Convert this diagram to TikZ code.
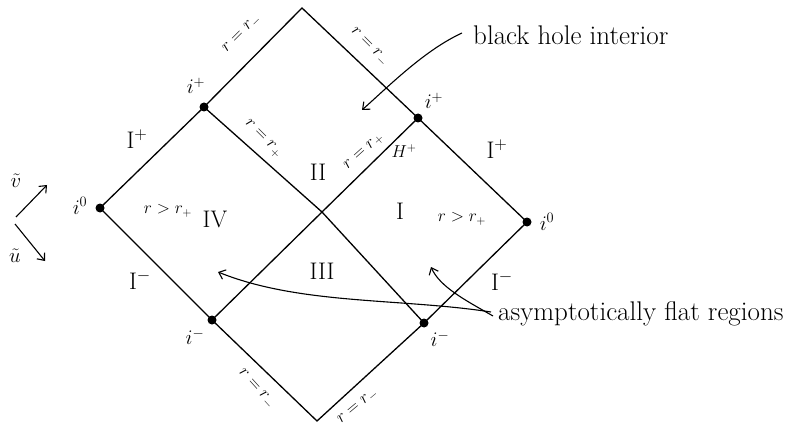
\documentclass[tikz,border=0pt]{standalone}
\usetikzlibrary{arrows.meta}
\begin{document}
\begin{tikzpicture}[x=1pt,y=-1pt,
  edge/.style={line width=1.3pt},
  dot/.style={circle,fill=black,inner sep=0pt,minimum size=9pt},
  lbl/.style={font=\fontsize{18}{21}\selectfont,inner sep=1pt},
  ptlbl/.style={font=\fontsize{21}{24}\selectfont,inner sep=1pt},
  scri/.style={font=\fontsize{24}{28}\selectfont,inner sep=1pt},
  region/.style={font=\fontsize{24}{28}\selectfont,inner sep=1pt},
  bigtext/.style={font=\fontsize{27}{31}\selectfont,inner sep=1pt},
  pointer/.style={line width=1.1pt,-{Straight Barb[length=6pt,width=10pt]}},
]
\useasboundingbox (0,0) rectangle (809,425);
% vertices
\coordinate (top) at (302,8);
\coordinate (bot) at (317,421);
\coordinate (c) at (322,212);
\node[dot] (ipL) at (204,107) {};
\node[dot] (ipR) at (418,118) {};
\node[dot] (ioL) at (100,208) {};
\node[dot] (ioR) at (527,222) {};
\node[dot] (imL) at (212,320) {};
\node[dot] (imR) at (424,323) {};
% boundary and horizons
\draw[edge] (ipL.center) -- (top) -- (ipR.center) -- (ioR.center) -- (imR.center) -- (bot) -- (imL.center) -- (ioL.center) -- cycle;
\draw[edge] (ipL.center) -- (c) -- (imR.center);
\draw[edge] (ipR.center) -- (c) -- (imL.center);
% point labels
\node[ptlbl] (tipL) at (196,86) {$i^+$};
\node[ptlbl] (tipR) at (434,101) {$i^+$};
\node[ptlbl] (tioL) at (80,206) {$i^0$};
\node[ptlbl] (tioR) at (547,222) {$i^0$};
\node[ptlbl] (timL) at (195,337) {$i^-$};
\node[ptlbl] (timR) at (440,339) {$i^-$};
% null infinity
\node[scri] (sipL) at (137,139) {I$^+$};
\node[scri] (sipR) at (497,149) {I$^+$};
\node[scri] (simL) at (140,280) {I$^-$};
\node[scri] (simR) at (502,281) {I$^-$};
% r labels
\node[lbl,rotate=45] (rmUL) at (242,34) {$r=r_-$};
\node[lbl,rotate=-45] (rmUR) at (369,47) {$r=r_-$};
\node[lbl,rotate=-45] (rpL) at (263,139) {$r=r_+$};
\node[lbl,rotate=42] (rpR) at (364,152) {$r=r_+$};
\node[lbl] (hp) at (404,151) {$H^+$};
\node[lbl,rotate=-48] (rmLL) at (256,389) {$r=r_-$};
\node[lbl,rotate=40] (rmLR) at (358,407) {$r=r_-$};
\node[lbl] (rgL) at (168,211) {$r>r_+$};
\node[lbl] (rgR) at (462,219) {$r>r_+$};
% regions
\node[region] (rI) at (400,211) {I};
\node[region] (rII) at (318,172) {II};
\node[region] (rIII) at (322,271) {III};
\node[region] (rIV) at (215,219) {IV};
% annotations
\node[bigtext,anchor=west] (bh) at (472,35) {black hole interior};
\node[bigtext,anchor=west] (af) at (497,314) {asymptotically flat regions};
\draw[pointer] ([xshift=-10pt,yshift=2pt]bh.west) .. controls (425,50) and (390,85) .. (362,110);
\draw[pointer] ([xshift=-4pt,yshift=-2pt]af.west) .. controls (465,300) and (440,287) .. (431,267);
\draw[pointer] ([xshift=-6pt,yshift=2pt]af.west) .. controls (400,298) and (300,305) .. (218,272);
% null coordinates
\coordinate (vs) at (16,217);
\coordinate (ve) at (47,185);
\coordinate (us) at (15,224);
\coordinate (ue) at (45,261);
\draw[pointer] (vs) -- (ve);
\draw[pointer] (us) -- (ue);
\node[ptlbl] (tv) at (16,181) {$\tilde v$};
\node[ptlbl] (tu) at (15,256) {$\tilde u$};
\end{tikzpicture}
\end{document}
